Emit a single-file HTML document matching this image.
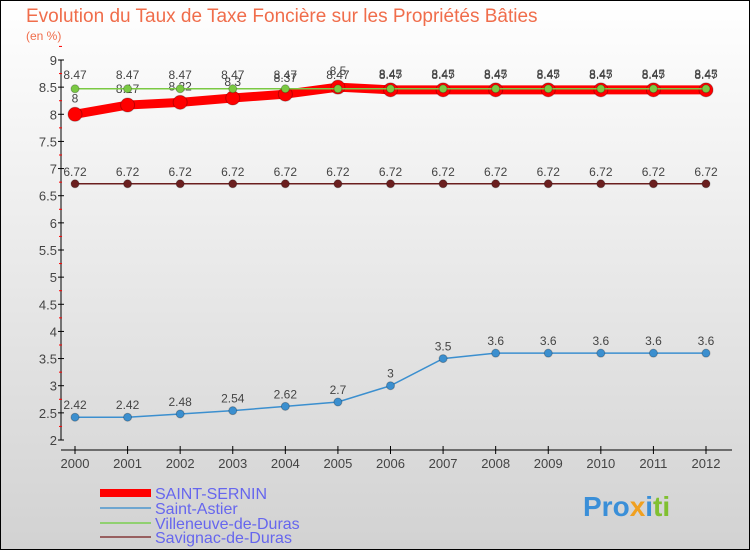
<!DOCTYPE html>
<html><head><meta charset="utf-8"><style>
body{margin:0}
svg{display:block;font-family:"Liberation Sans",sans-serif}
</style></head><body>
<svg width="750" height="550" xmlns="http://www.w3.org/2000/svg">
<defs><linearGradient id="bg" x1="0" y1="0" x2="0" y2="1"><stop offset="0" stop-color="#ffffff"/><stop offset="1" stop-color="#d2d2d2"/></linearGradient></defs>
<rect x="0.5" y="0.5" width="749" height="549" fill="url(#bg)" stroke="#000"/>
<text x="26" y="22" font-size="19" fill="#f06d4b">Evolution du Taux de Taxe Foncière sur les Propriétés Bâties</text>
<text x="26" y="40" font-size="12" fill="#f06d4b">(en %)</text>
<g id="axes"></g><g id="series"></g>
<g>
<rect x="100" y="489" width="51" height="8" fill="#f00"/>
<text x="155" y="499" font-size="16" fill="#6666ee">SAINT-SERNIN</text>
<rect x="100" y="507" width="51" height="2" fill="#6ea6d0"/>
<text x="155" y="514" font-size="16" fill="#6666ee">Saint-Astier</text>
<rect x="100" y="522" width="51" height="2" fill="#90d070"/>
<text x="155" y="529" font-size="16" fill="#6666ee">Villeneuve-de-Duras</text>
<rect x="100" y="536" width="51" height="2" fill="#986060"/>
<text x="155" y="543" font-size="16" fill="#6666ee">Savignac-de-Duras</text>
</g>
<g font-size="28" font-weight="bold">
<text x="583" y="516"><tspan fill="#3a8fd8">Pro</tspan><tspan fill="#f0a020">x</tspan><tspan fill="#3a8fd8">i</tspan><tspan fill="#80c030">ti</tspan></text>
</g>
</svg>
<script>
const years=[2000,2001,2002,2003,2004,2005,2006,2007,2008,2009,2010,2011,2012];
const yTicks=[2,2.5,3,3.5,4,4.5,5,5.5,6,6.5,7,7.5,8,8.5,9];
const sernin=[8,8.17,8.22,8.3,8.37,8.5,8.45,8.45,8.45,8.45,8.45,8.45,8.45];
const astier=[2.42,2.42,2.48,2.54,2.62,2.7,3,3.5,3.6,3.6,3.6,3.6,3.6];
const villeneuve=[8.47,8.47,8.47,8.47,8.47,8.47,8.47,8.47,8.47,8.47,8.47,8.47,8.47];
const savignac=[6.72,6.72,6.72,6.72,6.72,6.72,6.72,6.72,6.72,6.72,6.72,6.72,6.72];
const NS="http://www.w3.org/2000/svg";
const X=i=>75+i*(706-75)/(years.length-1);
const Y=v=>440-(v-2)*(380/7);
function mk(t,a,p){const e=document.createElementNS(NS,t);for(const k in a)e.setAttribute(k,a[k]);p.appendChild(e);return e;}
const ax=document.getElementById('axes');
let yl=mk('line',{x1:61,y1:Y(9),x2:61,y2:Y(2),stroke:'#000'},ax);


yTicks.forEach(v=>{mk('line',{x1:58,y1:Y(v),x2:64,y2:Y(v),stroke:'#000'},ax);
mk('line',{x1:59,y1:Y(v+0.25),x2:62,y2:Y(v+0.25),stroke:'#f00'},ax);
const t=mk('text',{x:57,y:Y(v)+5,'text-anchor':'end','font-size':13,fill:'#444'},ax);t.textContent=String(v);

});
let xl=mk('line',{x1:61,y1:450,x2:732,y2:450,stroke:'#000'},ax);


years.forEach((y,i)=>{mk('line',{x1:X(i),y1:446,x2:X(i),y2:454,stroke:'#000'},ax);
const t=mk('text',{x:X(i),y:468,'text-anchor':'middle','font-size':13,fill:'#444'},ax);t.textContent=y;

});
const sg=document.getElementById('series');
function draw(vals,color,w,r,name,dy){
const g=mk('g',{},sg);


mk('polyline',{points:vals.map((v,i)=>X(i)+','+Y(v)).join(' '),fill:'none',stroke:color,'stroke-width':w},g);
vals.forEach((v,i)=>{const c=mk('circle',{cx:X(i),cy:Y(v),r:r,fill:color,stroke:'rgba(0,0,0,0.25)'},g);


const t=mk('text',{x:X(i),y:Y(v)+dy,'text-anchor':'middle','font-size':12,fill:'#444'},g);t.textContent=String(v);

});}
draw(savignac,'#6b1f1f',1.5,4,'savignac',-8);
draw(astier,'#3b8fcf',1.5,4,'saint-astier',-8);
draw(sernin,'#f00',9,7,'saint-sernin',-12);
draw(villeneuve,'#7ac943',1.5,4,'villeneuve',-10);
</script>
</body></html>
